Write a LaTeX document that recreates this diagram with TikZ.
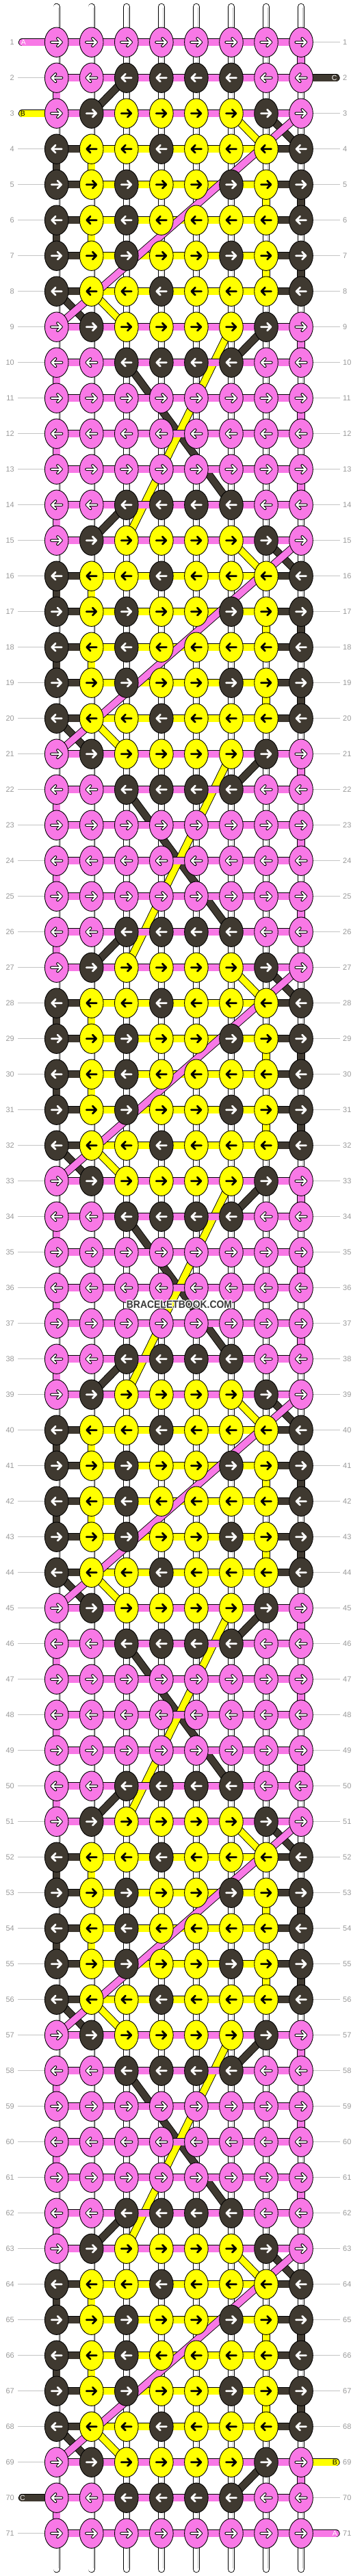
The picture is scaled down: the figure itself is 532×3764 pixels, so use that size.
\documentclass[tikz,border=0pt]{standalone}
\usepackage{fontspec}
\setmainfont{Liberation Sans}
\definecolor{pk}{HTML}{F878E6}
\definecolor{dk}{HTML}{3F3930}
\definecolor{yl}{HTML}{FFFF00}
\definecolor{lblgray}{HTML}{999999}
\definecolor{linegray}{HTML}{C4C4C4}
\definecolor{wmgray}{HTML}{3A3A3A}
\def\fillP{pk}\def\fillD{dk}\def\fillY{yl}
\def\defrow#1#2#3#4#5#6#7#8#9{%
  \expandafter\def\csname kk#1c1\endcsname{#2}%
  \expandafter\def\csname kk#1c2\endcsname{#3}%
  \expandafter\def\csname kk#1c3\endcsname{#4}%
  \expandafter\def\csname kk#1c4\endcsname{#5}%
  \expandafter\def\csname kk#1c5\endcsname{#6}%
  \expandafter\def\csname kk#1c6\endcsname{#7}%
  \expandafter\def\csname kk#1c7\endcsname{#8}%
  \expandafter\def\csname kk#1c8\endcsname{#9}}
\defrow{0}PDYYYYDP
\defrow{1}DYYDYYYD
\defrow{2}DYDYYDYD
\defrow{3}DYDYYYYD
\defrow{4}DYDYYDYD
\defrow{5}DYYDYYYD
\defrow{6}PDYYYYDP
\defrow{7}PPDDDDPP
\defrow{8}PPPPPPPP
\defrow{9}PPPPPPPP
\defrow{10}PPPPPPPP
\defrow{11}PPDDDDPP
\def\arrowP{%
  \draw[black,line width=4.2pt,line cap=round,line join=round] (-7.5,0) -- (7,0) (1.5,-5.5) -- (7,0) -- (1.5,5.5);
  \draw[white,line width=2.2pt,line cap=round,line join=round] (-7.5,0) -- (7,0) (1.5,-5.5) -- (7,0) -- (1.5,5.5);}
\def\arrowD{%
  \draw[white,line width=2.8pt,line cap=round,line join=round] (-7.5,0) -- (7,0) (1.5,-5.5) -- (7,0) -- (1.5,5.5);}
\def\arrowY{%
  \draw[black,line width=2.8pt,line cap=round,line join=round] (-7.5,0) -- (7,0) (1.5,-5.5) -- (7,0) -- (1.5,5.5);}
% #1 letter, #2 colour, #3 #4 start point, #5 #6 end point
\newcommand\threadpath[6]{%
  \xdef\prevX{#3}\xdef\prevY{#4}\xdef\isfirst{1}%
  \foreach \rr in {1,...,71}{%
    \pgfmathtruncatemacro\kk{mod(\rr+9,12)}%
    \pgfmathtruncatemacro\oddrow{mod(\rr,2)}%
    \pgfmathsetmacro\Y{61.7+52*(\rr-1)}%
    \foreach \ii in {1,...,8}{%
      \ifnum\oddrow=1 \edef\cc{\ii}\else\pgfmathtruncatemacro\cc{9-\ii}\fi
      \edef\cur{\csname kk\kk c\cc\endcsname}%
      \def\tgt{#1}%
      \ifx\cur\tgt
        \pgfmathsetmacro\X{82.7+51.05*(\cc-1)}%
        \ifnum\isfirst=1
          \draw[tailst=#2] (\prevX,\prevY) -- (\X,\Y);%
          \xdef\isfirst{0}%
        \else
          \draw[thr=#2] (\prevX,\prevY) -- (\X,\Y);%
        \fi
        \xdef\prevX{\X}\xdef\prevY{\Y}%
      \fi
    }%
  }%
  \draw[tailst=#2] (\prevX,\prevY) -- (#5,#6);%
}
\begin{document}
\begin{tikzpicture}[x=1pt,y=-1pt,
  thr/.style={draw=black, line width=0.9pt, double=#1, double distance=9.6pt, line cap=butt},
  tailst/.style={thr=#1, line cap=round},
  warpst/.style={draw=black, line width=0.9pt, double=white, double distance=8.6pt, line cap=round},
  knotst/.style={draw=black, line width=0.9pt},
  rowlbl/.style={font=\fontsize{11}{11}\selectfont, text=lblgray, inner sep=0pt},
  taillbl/.style={font=\fontsize{10.5}{10.5}\selectfont, inner sep=0pt},
  wm/.style={font=\fontsize{15.5}{15.5}\bfseries\selectfont, inner sep=0pt}]
\useasboundingbox (0,0) rectangle (532,3764);
\fill[white] (0,0) rectangle (532,3764);
% row guide lines and numbers
\foreach \rr in {1,...,71}{%
  \pgfmathsetmacro\Y{61.7+52*(\rr-1)}%
  \draw[linegray, line width=0.8pt] (26,\Y) -- (66,\Y) (457,\Y) -- (497,\Y);
  \node[rowlbl, anchor=east] (ll\rr) at (21,\Y) {\rr};
  \node[rowlbl, anchor=west] (rl\rr) at (501,\Y) {\rr};
}
% warp strings
\foreach \cc in {1,...,8}{%
  \pgfmathsetmacro\X{82.7+51.05*(\cc-1)}%
  \draw[warpst] (\X,10) -- (\X,3754);
  \draw[black!25, line width=0.7pt] (\X+2.3,11) -- (\X+2.3,3753);
}
% working threads
\threadpath{D}{dk}{491}{113.7}{32.5}{3649.7}
\threadpath{Y}{yl}{32.5}{165.7}{491}{3597.7}
\threadpath{P}{pk}{32.5}{61.7}{491}{3701.7}
% knots
\foreach \rr in {1,...,71}{%
  \pgfmathtruncatemacro\kk{mod(\rr+9,12)}%
  \pgfmathtruncatemacro\oddrow{mod(\rr,2)}%
  \pgfmathsetmacro\Y{61.7+52*(\rr-1)}%
  \ifnum\oddrow=1 \def\sgn{1}\else\def\sgn{-1}\fi
  \foreach \cc in {1,...,8}{%
    \pgfmathsetmacro\X{82.7+51.05*(\cc-1)}%
    \edef\cur{\csname kk\kk c\cc\endcsname}%
    \edef\fc{\csname fill\cur\endcsname}%
    \draw[knotst, fill=\fc] (\X,\Y) ellipse [x radius=17.3pt, y radius=21.7pt];
    \begin{scope}[shift={(\X,\Y)}, xscale=\sgn]
      \csname arrow\cur\endcsname
    \end{scope}
  }%
}
% tail labels
\node[taillbl, text=white] (tA1) at (34.5,61.7) {A};
\node[taillbl, text=black] (tB1) at (33.5,165.7) {B};
\node[taillbl, text=white] (tC1) at (488.7,113.7) {C};
\node[taillbl, text=white] (tC2) at (33,3649.7) {C};
\node[taillbl, text=black] (tB2) at (489.3,3597.7) {B};
\node[taillbl, text=white] (tA2) at (489.3,3701.7) {A};
% watermark
\foreach \dx/\dy in {-1/0,1/0,0/-1,0/1,-1/-1,1/1,-1/1,1/-1}{%
  \node[wm, text=white] at (262+\dx,1906+\dy) {\scalebox{0.9}[1]{BRACELETBOOK.COM}};
}
\node[wm, text=wmgray] (wm) at (262,1906) {\scalebox{0.9}[1]{BRACELETBOOK.COM}};
\end{tikzpicture}
\end{document}
